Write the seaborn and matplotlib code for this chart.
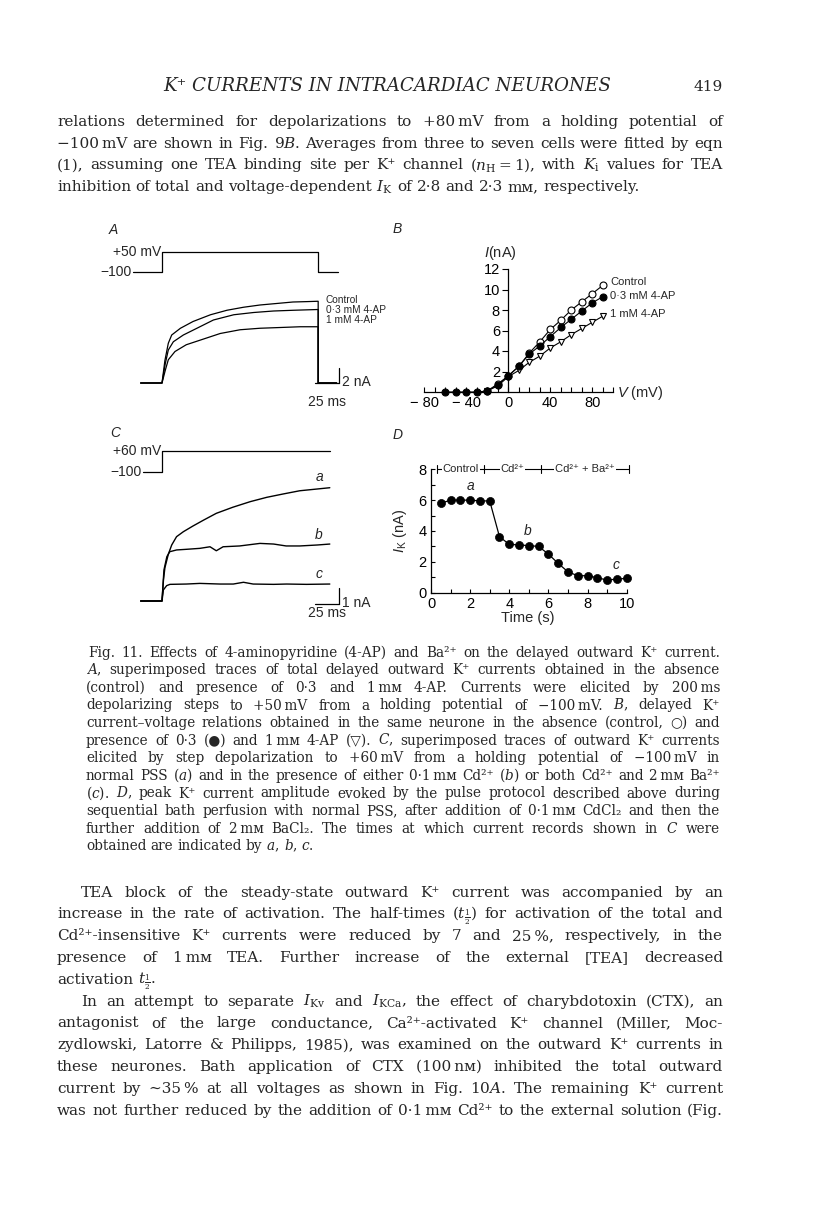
import matplotlib
matplotlib.use('Agg')
import matplotlib.pyplot as plt
import seaborn as sns

W, H = 816, 1208

# ---------------- data ----------------
# A: current traces (ms, nA) and voltage protocol (ms, mV)
a_t_ctrl = [-22, 0, 3, 6.5, 10, 19, 32, 50, 67, 84, 101, 118, 135, 149, 161, 161, 180]
a_i_ctrl = [0, 0, 3.0, 5.3, 6.4, 7.3, 8.2, 9.1, 9.7, 10.1, 10.4, 10.6, 10.8, 10.85, 10.9, 0, 0]
a_t_03 = [-22, 0, 3.4, 6.5, 11.7, 22, 36, 53, 74, 94.5, 115, 136, 161, 161, 180]
a_i_03 = [0, 0, 2.6, 4.4, 5.5, 6.4, 7.3, 8.4, 9.1, 9.4, 9.6, 9.7, 9.8, 0, 0]
a_t_1 = [-22, 0, 3.4, 6.5, 13.4, 25, 39, 60, 80.5, 101, 122, 142.5, 161, 161, 180]
a_i_1 = [0, 0, 1.7, 3.1, 4.2, 5.1, 5.7, 6.6, 7.1, 7.3, 7.4, 7.5, 7.5, 0, 0]
a_prot_t = [-30, 0, 0, 161, 161, 181]
a_prot_v = [-100, -100, 50, 50, -100, -100]
a_labels = ['Control', '0·3 mM 4-AP', '1 mM 4-AP']

# B: current-voltage relations (mV, nA)
b_v_ctrl = [-20, -10, 0, 10, 20, 30, 40, 50, 60, 70, 80, 90]
b_i_ctrl = [0.1, 0.8, 1.55, 2.5, 3.8, 4.9, 6.1, 7.0, 8.0, 8.8, 9.6, 10.4]
b_v_03 = [-60, -50, -40, -30, -20, -10, 0, 10, 20, 30, 40, 50, 60, 70, 80, 90]
b_i_03 = [0, 0, 0, 0, 0.1, 0.7, 1.6, 2.5, 3.7, 4.5, 5.4, 6.3, 7.1, 7.9, 8.7, 9.3]
b_v_1 = [-20, -10, 0, 10, 20, 30, 40, 50, 60, 70, 80, 90]
b_i_1 = [0.1, 0.6, 1.5, 2.1, 2.9, 3.5, 4.3, 4.9, 5.6, 6.2, 6.8, 7.4]
b_xticks = list(range(-80, 101, 10))
b_xlabels = [-80, -40, 0, 40, 80]
b_yticks = [2, 4, 6, 8, 10, 12]

# C: current traces (ms, nA) and protocol
c_t_a = [-22, 0, 1.5, 3, 6.5, 10, 15, 22, 32, 43, 56, 73, 91, 108, 125, 142, 160, 173]
c_i_a = [0, 0, 1.31, 2.08, 2.92, 3.5, 4.02, 4.33, 4.69, 5.06, 5.48, 5.86, 6.21, 6.48, 6.69, 6.89, 7.0, 7.08]
c_t_b = [-22, 0, 2, 5, 8, 15, 25, 39, 49.5, 56, 63, 80, 101, 115, 128, 142, 160, 173]
c_i_b = [0, 0, 1.94, 2.77, 3.08, 3.19, 3.23, 3.29, 3.39, 3.14, 3.39, 3.44, 3.6, 3.56, 3.44, 3.44, 3.5, 3.56]
c_t_c = [-22, 0, 1.4, 4.8, 8.2, 25, 39, 60, 73.5, 84, 94, 115, 128.5, 149, 173]
c_i_c = [0, 0, 0.69, 0.96, 1.04, 1.06, 1.1, 1.06, 1.06, 1.17, 1.06, 1.04, 1.06, 1.04, 1.06]
c_prot_t = [-20, 0, 0, 173]
c_prot_v = [-100, -100, 60, 60]

# D: peak I_K during perfusion (s, nA)
d_t = [0.5, 1, 1.5, 2, 2.5, 3, 3.5, 4, 4.5, 5, 5.5, 6, 6.5, 7, 7.5, 8, 8.5, 9, 9.5, 10]
d_i = [5.8, 6.0, 6.0, 6.0, 5.95, 5.95, 3.63, 3.13, 3.1, 3.05, 3.0, 2.5, 1.9, 1.35, 1.1, 1.1, 0.97, 0.82, 0.88, 0.93]
d_phase_edges = [0.32, 2.72, 5.62, 10.13]
d_phase_names = ['Control', 'Cd²⁺', 'Cd²⁺ + Ba²⁺']

# page text
header = 'K⁺ CURRENTS IN INTRACARDIAC NEURONES'
page_no = '419'
par1 = [
    'relations determined for depolarizations to +80\u2009mV from a holding potential of',
    '\u2212100\u2009mV are shown in Fig. 9$B$. Averages from three to seven cells were fitted by eqn',
    r'(1), assuming one TEA binding site per K⁺ channel ($n_{\rm H} = 1$), with $K_{\rm i}$ values for TEA',
    r'inhibition of total and voltage-dependent $I_{\rm K}$ of 2·8 and 2·3 mᴍ, respectively.',
]
caption = [
    'Fig. 11. Effects of 4-aminopyridine (4-AP) and Ba²⁺ on the delayed outward K⁺ current.',
    '$A$, superimposed traces of total delayed outward K⁺ currents obtained in the absence',
    '(control) and presence of 0·3 and 1\u2009mᴍ 4-AP. Currents were elicited by 200\u2009ms',
    'depolarizing steps to +50\u2009mV from a holding potential of \u2212100\u2009mV. $B$, delayed K⁺',
    'current\u2013voltage relations obtained in the same neurone in the absence (control, ○) and',
    'presence of 0·3 (●) and 1\u2009mᴍ 4-AP (▽). $C$, superimposed traces of outward K⁺ currents',
    'elicited by step depolarization to +60\u2009mV from a holding potential of \u2212100\u2009mV in',
    'normal PSS ($a$) and in the presence of either 0·1\u2009mᴍ Cd²⁺ ($b$) or both Cd²⁺ and 2\u2009mᴍ Ba²⁺',
    '($c$). $D$, peak K⁺ current amplitude evoked by the pulse protocol described above during',
    'sequential bath perfusion with normal PSS, after addition of 0·1\u2009mᴍ CdCl₂ and then the',
    'further addition of 2\u2009mᴍ BaCl₂. The times at which current records shown in $C$ were',
    'obtained are indicated by $a$, $b$, $c$.',
]
par2 = [
    'TEA block of the steady-state outward K⁺ current was accompanied by an',
    r'increase in the rate of activation. The half-times ($t_{\frac{1}{2}}$) for activation of the total and',
    'Cd²⁺-insensitive K⁺ currents were reduced by 7 and 25\u2009%, respectively, in the',
    'presence of 1\u2009mᴍ TEA. Further increase of the external [TEA] decreased',
    r'activation $t_{\frac{1}{2}}$.',
]
par3 = [
    r'In an attempt to separate $I_{\rm Kv}$ and $I_{\rm KCa}$, the effect of charybdotoxin (CTX), an',
    'antagonist of the large conductance, Ca²⁺-activated K⁺ channel (Miller, Moc-',
    'zydlowski, Latorre & Philipps, 1985), was examined on the outward K⁺ currents in',
    'these neurones. Bath application of CTX (100\u2009nᴍ) inhibited the total outward',
    'current by \u223c35\u2009% at all voltages as shown in Fig. 10$A$. The remaining K⁺ current',
    'was not further reduced by the addition of 0·1\u2009mᴍ Cd²⁺ to the external solution (Fig.',
]

# ---------------- style ----------------
sns.set_theme(style='white')
plt.rcParams['font.family'] = ['Liberation Sans', 'DejaVu Sans']
plt.rcParams['mathtext.fontset'] = 'custom'
plt.rcParams['mathtext.rm'] = 'Liberation Sans'
plt.rcParams['mathtext.it'] = 'Liberation Sans:italic'
plt.rcParams['mathtext.bf'] = 'Liberation Sans:bold'
plt.rcParams['axes.linewidth'] = 0.9
SERIF = ['DejaVu Serif', 'DejaVu Sans']

fig = plt.figure(figsize=(W / 100, H / 100), dpi=100, facecolor='white')
rend = fig.canvas.get_renderer()


def page_text(x, y, s, **kw):
    return fig.text(x / W, 1 - y / H, s, **kw)


def panel_ax(box, xref, yref):
    # box in page pixels (left, top, right, bottom); refs map pixels to data
    l, t, r, b = box
    ax = fig.add_axes([l / W, 1 - b / H, (r - l) / W, (b - t) / H])
    (p0, v0), (p1, v1) = xref
    k = (v1 - v0) / (p1 - p0)
    ax.set_xlim(v0 + (l - p0) * k, v0 + (r - p0) * k)
    (q0, w0), (q1, w1) = yref
    k = (w1 - w0) / (q1 - q0)
    ax.set_ylim(w0 + (b - q0) * k, w0 + (t - q0) * k)
    ax.patch.set_alpha(0)
    return ax


def trace(ax, t, i, lw=0.9):
    sns.lineplot(x=t, y=i, ax=ax, sort=False, estimator=None, color='black',
                 lw=lw, legend=False)


def split_words(line):
    # split on spaces, but never inside $...$
    words, cur, in_math = [], '', False
    for ch in line:
        if ch == '$':
            in_math = not in_math
        if ch == ' ' and not in_math:
            words.append(cur)
            cur = ''
        else:
            cur += ch
    words.append(cur)
    return words


def set_lines(lines, left, right, y0, dy, size, indent=0.0, ragged_last=True):
    rows = []
    for n, line in enumerate(lines):
        x0 = left + (indent if n == 0 else 0)
        objs = [page_text(x0, y0 + n * dy, w, fontsize=size, family=SERIF,
                          math_fontfamily='dejavuserif', va='baseline', ha='left')
                for w in split_words(line)]
        rows.append((x0, objs, not (ragged_last and n == len(lines) - 1)))
    for _ in range(3):
        em = size * 100 / 72
        worst = 1.0
        for x0, objs, just in rows:
            if just:
                ws = sum(o.get_window_extent(rend).width for o in objs)
                need = ws + 0.2 * em * (len(objs) - 1)
                worst = max(worst, need / (right - x0))
        if worst <= 1.0:
            break
        size = size / worst
        for _, objs, _ in rows:
            for o in objs:
                o.set_fontsize(size)
    em = size * 100 / 72
    for x0, objs, just in rows:
        widths = [o.get_window_extent(rend).width for o in objs]
        gap = 0.3 * em
        if just and len(objs) > 1:
            gap = (right - x0 - sum(widths)) / (len(objs) - 1)
        x = x0
        for o, w in zip(objs, widths):
            o.set_x(x / W)
            x += w + gap


# ---------------- page text ----------------
LEFT, RIGHT = 57, 723
h = page_text(387, 91, header, fontsize=10, family=SERIF, style='italic',
              ha='center', va='baseline')
hw = h.get_window_extent(rend).width
h.set_fontsize(10 * 449 / hw)
page_text(RIGHT, 91, page_no, fontsize=11, family=SERIF, ha='right', va='baseline')

set_lines(par1, LEFT, RIGHT, 126, 21.7, 11)
set_lines(caption, 86, 720, 656.7, 17.6, 9.8, indent=2)
set_lines(par2, LEFT, RIGHT, 896.7, 21.8, 11, indent=24)
set_lines(par3, LEFT, RIGHT, 896.7 + 5 * 21.8, 21.8, 11, indent=24, ragged_last=False)

# ---------------- panel A ----------------
tx = ((162, 0), (259, 100))
ax_ap = panel_ax((95, 240, 370, 285), tx, ((272, -100), (252.5, 50)))
ax_ap.axis('off')
trace(ax_ap, a_prot_t, a_prot_v)
ax_ap.text(-1, 50, '+50 mV', ha='right', va='center', fontsize=10)
ax_ap.text(-31, -100, '\u2212100', ha='right', va='center', fontsize=10)

ax_a = panel_ax((95, 285, 370, 415), tx, ((383, 0), (368, 2)))
ax_a.axis('off')
for t, i in [(a_t_ctrl, a_i_ctrl), (a_t_03, a_i_03), (a_t_1, a_i_1)]:
    trace(ax_a, t, i)
for lab, yy in zip(a_labels, [11.07, 9.73, 8.4]):
    ax_a.text(169, yy, lab, fontsize=7.3, ha='left', va='center')
ax_a.plot([182.5, 182.5], [0, 2], color='black', lw=0.9)
ax_a.plot([157.5, 182.5], [0, 0], color='black', lw=0.9)
ax_a.text(185.6, 0.2, '2 nA', fontsize=10, ha='left', va='center')
ax_a.text(170, -2.5, '25 ms', fontsize=10, ha='center', va='center')

# ---------------- panel C ----------------
ax_cp = panel_ax((95, 440, 370, 480), tx, ((471.7, -100), (450.7, 60)))
ax_cp.axis('off')
trace(ax_cp, c_prot_t, c_prot_v)
ax_cp.text(-1, 60, '+60 mV', ha='right', va='center', fontsize=10)
ax_cp.text(-21, -100, '\u2212100', ha='right', va='center', fontsize=10)

ax_c = panel_ax((95, 480, 370, 625), tx, ((601, 0), (585, 1)))
ax_c.axis('off')
for t, i in [(c_t_a, c_i_a), (c_t_b, c_i_b), (c_t_c, c_i_c)]:
    trace(ax_c, t, i, lw=1.0)
for lab, yy in zip(['a', 'b', 'c'], [7.75, 4.1, 1.7]):
    ax_c.text(162, yy, lab, fontsize=10, style='italic', ha='center', va='center')
ax_c.plot([182.8, 182.8], [-0.2, 0.8], color='black', lw=0.9)
ax_c.plot([157.8, 182.8], [-0.2, -0.2], color='black', lw=0.9)
ax_c.text(185.6, -0.1, '1 nA', fontsize=10, ha='left', va='center')
ax_c.text(170, -0.77, '25 ms', fontsize=10, ha='center', va='center')

# ---------------- panel B ----------------
ax_b = panel_ax((415, 255, 640, 410), ((508.3, 0), (592.3, 80)), ((392, 0), (269, 12)))
sns.lineplot(x=b_v_ctrl, y=b_i_ctrl, ax=ax_b, color='black', lw=0.8, marker='o',
             markersize=5, mfc='white', mec='black', mew=0.8, clip_on=False)
sns.lineplot(x=b_v_1, y=b_i_1, ax=ax_b, color='black', lw=0.8, marker='v',
             markersize=5, mfc='white', mec='black', mew=0.8, clip_on=False)
sns.lineplot(x=b_v_03, y=b_i_03, ax=ax_b, color='black', lw=0.8, marker='o',
             markersize=5, mfc='black', mec='black', mew=0.8, clip_on=False)
for s in ['top', 'right']:
    ax_b.spines[s].set_visible(False)
ax_b.spines['left'].set_position(('data', 0))
ax_b.spines['bottom'].set_position(('data', 0))
ax_b.spines['left'].set_bounds(0, 12)
ax_b.spines['bottom'].set_bounds(-80, 100)
for s in ['left', 'bottom']:
    ax_b.spines[s].set_color('black')
ax_b.set_xticks(b_xticks, [str(v).replace('-', '\u2212 ') if v in b_xlabels else ''
                           for v in b_xticks])
ax_b.set_yticks(b_yticks, [str(v) for v in b_yticks])
ax_b.tick_params(axis='x', direction='in', length=3.5, width=0.8, pad=3, labelsize=10.5,
                 bottom=True, colors='black')
ax_b.tick_params(axis='y', direction='out', length=4, width=0.8, pad=2, labelsize=10.5,
                 left=True, colors='black')
ax_b.set_xlabel('')
ax_b.set_ylabel('')
page_text(500, 253, '$I$(nA)', fontsize=10.5, ha='center', va='center')
page_text(617, 393, '$V$ (mV)', fontsize=10.5, ha='left', va='center')
for lab, yy in zip(a_labels, [281.7, 296, 314.3]):
    page_text(610, yy, lab, fontsize=8, ha='left', va='center')

# ---------------- panel D ----------------
ax_d = panel_ax((431, 469.3, 626.7, 592.7), ((431, 0), (626.7, 10)), ((592.7, 0), (469.3, 8)))
sns.lineplot(x=d_t, y=d_i, ax=ax_d, color='black', lw=0.9, marker='o', markersize=5.8,
             mec='black', mfc='black', mew=0.5)
for ln in ax_d.lines:
    ln.set_clip_on(False)
for s in ['top', 'right']:
    ax_d.spines[s].set_visible(False)
for s in ['left', 'bottom']:
    ax_d.spines[s].set_color('black')
ax_d.set_xticks(range(0, 11), [str(v) if v % 2 == 0 else '' for v in range(0, 11)])
ax_d.set_yticks(range(0, 9), [str(v) if v % 2 == 0 else '' for v in range(0, 9)])
ax_d.tick_params(direction='in', length=3, width=0.8, pad=3, labelsize=10.5,
                 bottom=True, left=True, colors='black')
ax_d.set_xlabel('')
ax_d.set_ylabel('')
ax_d.plot([d_phase_edges[0], d_phase_edges[-1]], [8, 8], color='black', lw=0.8, clip_on=False)
for e in d_phase_edges:
    ax_d.plot([e, e], [7.75, 8.25], color='black', lw=0.8, clip_on=False)
for name, e0, e1 in zip(d_phase_names, d_phase_edges[:-1], d_phase_edges[1:]):
    ax_d.text((e0 + e1) / 2, 8, name, fontsize=8, ha='center', va='center',
              bbox=dict(facecolor='white', edgecolor='none', pad=0.6), clip_on=False)
for lab, x, y in zip(['a', 'b', 'c'], [2.0, 4.92, 9.45], [6.9, 4.0, 1.8]):
    ax_d.text(x, y, lab, fontsize=10, style='italic', ha='center', va='center')
page_text(400, 531, r'$I_{\rm K}$ (nA)', fontsize=10.5, rotation=90, ha='center', va='center')
page_text(528, 618, 'Time (s)', fontsize=10.5, ha='center', va='center')

# panel letters
for lab, x, y in [('A', 113, 230), ('B', 397, 229), ('C', 115, 433), ('D', 398, 435)]:
    page_text(x, y, lab, fontsize=10, style='italic', ha='center', va='center')

fig.savefig('out.png', dpi=100, facecolor='white')
